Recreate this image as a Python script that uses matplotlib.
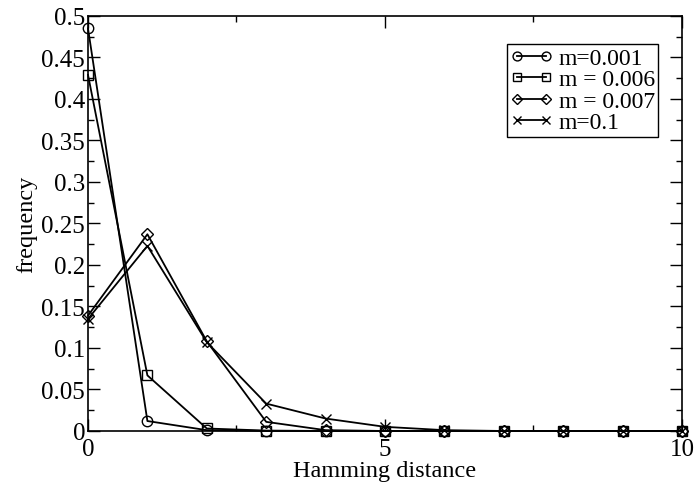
import numpy as np
import matplotlib
matplotlib.use("Agg")
from matplotlib import pyplot as plt
from matplotlib.ticker import MultipleLocator

# hamming distance distributions
dist = [0, 1, 2, 3, 4, 5, 6, 7, 8, 9, 10]
f_001 = [0.485, 0.012, 0.001, 0.0, 0.0, 0.0, 0.0, 0.0, 0.0, 0.0, 0.0]
f_006 = [0.429, 0.067, 0.003, 0.0005, 0.0, 0.0, 0.0, 0.0, 0.0, 0.0, 0.0]
f_007 = [0.139, 0.237, 0.108, 0.011, 0.001, 0.0, 0.0, 0.0, 0.0, 0.0, 0.0]
f_1 = [0.135, 0.223, 0.107, 0.033, 0.015, 0.005, 0.001, 0.0, 0.0, 0.0, 0.0]
labels = ["m=0.001", "m = 0.006", "m = 0.007", "m=0.1"]

plt.rcParams['font.family'] = ['Liberation Serif', 'DejaVu Serif']

fig = plt.figure(figsize=(6.94, 4.85), dpi=100)
ax = fig.add_axes([0.1268, 0.1093, 0.8559, 0.8557])

style = dict(color='black', lw=1.3, markersize=7.5, markerfacecolor='none',
             markeredgewidth=1.0, clip_on=False)
ax.plot(dist, f_001, marker='o', label=labels[0], **style)
ax.plot(dist, f_006, marker='s', label=labels[1], **dict(style, markersize=7))
ax.plot(dist, f_007, marker='D', label=labels[2], **dict(style, markersize=6))
ax.plot(dist, f_1, marker='x', label=labels[3], **style)

ax.set_xlim(0, 10)
ax.set_ylim(0, 0.5)
ax.xaxis.set_major_locator(MultipleLocator(5))
ax.xaxis.set_minor_locator(MultipleLocator(2.5))
ax.yaxis.set_minor_locator(MultipleLocator(0.025))
ax.set_yticks(np.arange(0, 0.501, 0.05))
ax.set_yticklabels(["0", "0.05", "0.1", "0.15", "0.2", "0.25", "0.3", "0.35", "0.4", "0.45", "0.5"])
ax.tick_params(which='both', direction='in', top=True, right=True, labelsize=18, width=1)
ax.tick_params(which='major', length=8.5)
ax.tick_params(axis='x', which='major', pad=5)
ax.tick_params(axis='y', which='major', pad=2)
ax.tick_params(which='minor', length=4.5)
for s in ax.spines.values():
	s.set_linewidth(1.2)

ax.set_xlabel("Hamming distance", fontsize=17.5, labelpad=0)
ax.set_ylabel("frequency", fontsize=17.5, labelpad=3)

leg = ax.legend(loc='upper right', bbox_to_anchor=(0.96, 0.933), fontsize=17,
                frameon=True, fancybox=False, edgecolor='black', framealpha=1,
                borderpad=0.15, labelspacing=0.0, handlelength=1.8, handletextpad=0.25,
                borderaxespad=0, numpoints=2, markerscale=0.85)
leg.get_frame().set_linewidth(1.0)

fig.savefig("out.png", dpi=100)
